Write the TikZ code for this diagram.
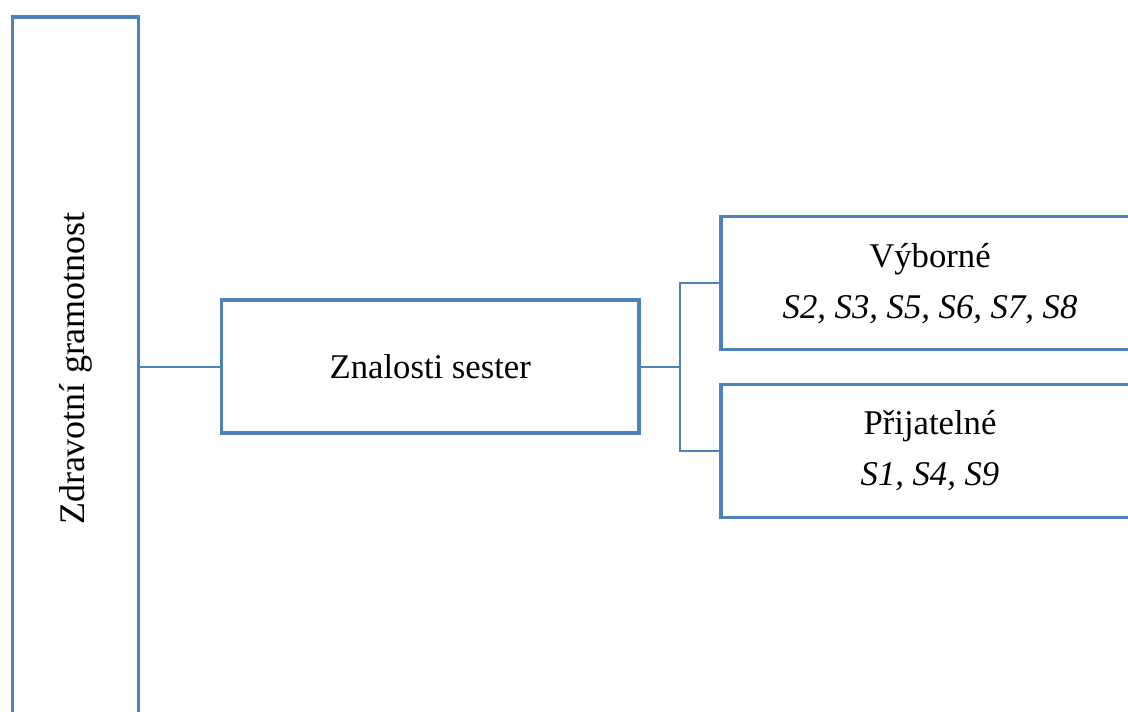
\documentclass[tikz,border=0pt]{standalone}
\usepackage{fontspec}
\setmainfont{Liberation Serif}
\definecolor{boxblue}{HTML}{4F81BD}
\begin{document}
\begin{tikzpicture}[x=0.75pt,y=-0.75pt,
  box/.style={draw=boxblue,line width=2.5pt,rectangle,inner sep=0pt,align=center,
    font=\fontsize{26}{38.5}\selectfont,text=black},
  link/.style={draw=boxblue,line width=1.5pt}]
\useasboundingbox (0,0) rectangle (1128,711);
\clip (0,0) rectangle (1128,711);
\node[box,minimum width=126*0.75pt,minimum height=703*0.75pt,font=\fontsize{27}{38.5}\selectfont] (zg) at (75.5,368.5)
  {\rotatebox{90}{Zdravotní gramotnost}};
\node[box,minimum width=417.5*0.75pt,minimum height=133*0.75pt] (zs) at (430.25,366.5) {Znalosti sester};
\node[box,minimum width=418*0.75pt,minimum height=133*0.75pt] (vy) at (930,283.3)
  {Výborné\\\textit{S2, S3, S5, S6, S7, S8}};
\node[box,minimum width=418*0.75pt,minimum height=133*0.75pt] (pr) at (930,450.7)
  {Přijatelné\\\textit{S1, S4, S9}};
\draw[link] (zg.east |- zs.west) -- (zs.west);
\coordinate (fork) at (680,366.5);
\draw[link] (zs.east) -- (fork);
\draw[link] (fork) |- (vy.west);
\draw[link] (fork) |- (pr.west);
\end{tikzpicture}
\end{document}
